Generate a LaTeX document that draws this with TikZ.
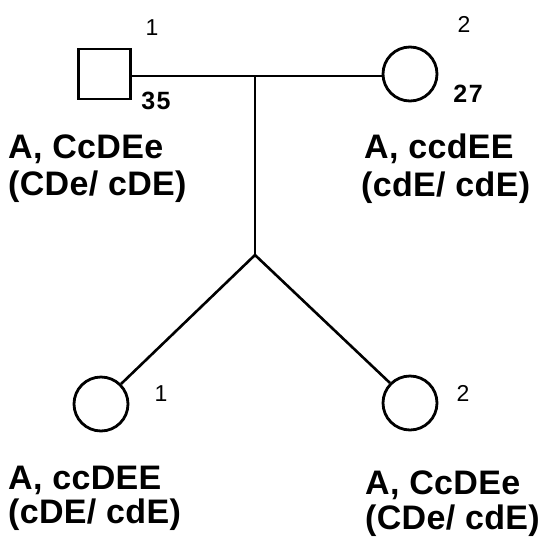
\documentclass[tikz,border=0pt]{standalone}
\usepackage{fontspec}
\setmainfont{Liberation Sans}
\newfontfamily\lblfont[LetterSpace=1]{Liberation Sans}
\newfontfamily\agefont[LetterSpace=6]{Liberation Sans}
\begin{document}
\begin{tikzpicture}[x=1pt,y=-1pt,
  person/.style={draw,line width=2.8pt,minimum size=52pt,inner sep=0pt},
  female/.style={person,circle,minimum size=54pt},
  male/.style={person,rectangle,minimum width=52pt,minimum height=50pt},
  conn/.style={line width=2.6pt},
  geno/.style={anchor=west,inner sep=0pt,font=\lblfont\fontsize{34}{38}\selectfont\bfseries},
  num/.style={inner sep=0pt,font=\fontsize{23}{26}\selectfont},
  age/.style={inner sep=0pt,font=\agefont\fontsize{25}{30}\selectfont\bfseries}]
\useasboundingbox (0,0) rectangle (540,538);
\node[male] (f) at (104.5,74) {};
\node[female] (m) at (410,74) {};
\node[female] (c1) at (101,404) {};
\node[female] (c2) at (410,403) {};
\coordinate (mid) at (255,76);
\coordinate (split) at (255,255);
\draw[line width=2.2pt] (f.east |- mid) -- (m.west |- mid);
\draw[conn] (mid) -- (split);
\draw[conn] (split) -- (c1.north east);
\draw[conn] (split) -- (c2.north west);
\node[num] (n1) at (152,28) {1};
\node[num] (n2) at (464,24) {2};
\node[age] (a1) at (156,101) {35};
\node[age] (a2) at (468,94) {27};
\node[num] (n3) at (161,394) {1};
\node[num] (n4) at (463,393) {2};
\node[geno] (g1a) at (8,149) {A, CcDEe};
\node[geno] (g1b) at (8,187) {(CDe/ cDE)};
\node[geno] (g2a) at (364,149) {A, ccdEE};
\node[geno] (g2b) at (361,188) {(cdE/ cdE)};
\node[geno] (g3a) at (8,480) {A, ccDEE};
\node[geno] (g3b) at (8,515) {(cDE/ cdE)};
\node[geno] (g4a) at (365,485) {A, CcDEe};
\node[geno] (g4b) at (365,521) {(CDe/ cdE)};
\end{tikzpicture}
\end{document}
